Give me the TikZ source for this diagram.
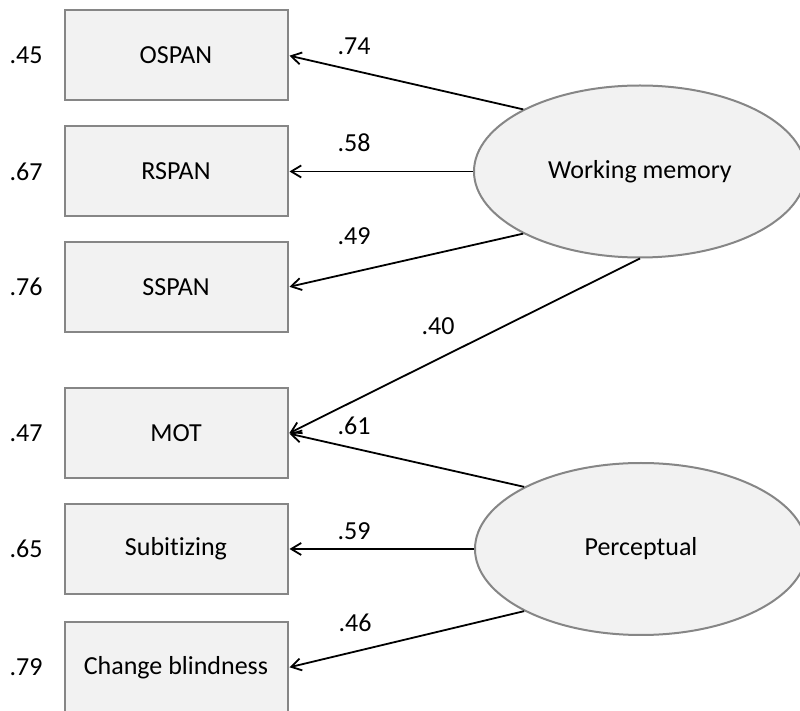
\documentclass[tikz,border=0pt]{standalone}
\usepackage{fontspec}
\setmainfont{Carlito}[Ligatures=NoCommon]
\usetikzlibrary{shapes.geometric,arrows.meta}
\definecolor{boxfill}{HTML}{F2F2F2}
\definecolor{boxline}{HTML}{868686}
\tikzset{
	txt/.style={font=\fontsize{13}{15}\selectfont},
	obsbox/.style={txt,draw=boxline,fill=boxfill,line width=1pt,minimum width=111.5pt,minimum height=45pt,inner sep=0pt},
	latent/.style={txt,ellipse,draw=boxline,fill=boxfill,line width=1pt,minimum width=166pt,minimum height=86pt,inner sep=0pt},
	loading/.style={line width=0.9pt,-{Straight Barb[length=5pt,width=6pt]},shorten >=0.5pt},
	coef/.style={txt,inner sep=0pt}
}

\begin{document}
\begin{tikzpicture}[x=0.5pt,y=-0.5pt]
			\useasboundingbox (0,0) rectangle (800,711);
			\clip (0,0) rectangle (800,711);
			% observed measures
			\node[obsbox] (ospan) at (176,55.5) {OSPAN};
			\node[obsbox] (rspan) at (176,171.5) {RSPAN};
			\node[obsbox] (sspan) at (176,287) {SSPAN};
			\node[obsbox] (mot) at (176,433.5) {MOT};
			\node[obsbox] (subit) at (176,549) {Subitizing};
			\node[obsbox] (change) at (176,667.5) {Change blindness};
			% latent factors
			\node[latent] (wm) at (640,171.5) {Working memory};
			\node[latent] (perc) at (641,549) {Perceptual};
			% loadings
			\draw[loading] (wm.152) -- (ospan.east);
			\draw[loading] (wm.180) -- (rspan.east);
			\draw[loading] (wm.208) -- (sspan.east);
			\draw[loading] (wm.270) -- (mot.east);
			\draw[loading] (perc.152) -- (mot.east);
			\draw[loading] (perc.180) -- (subit.east);
			\draw[loading] (perc.208) -- (change.east);
			\node[coef] (l1) at (354,46) {.74};
			\node[coef] (l2) at (354,143) {.58};
			\node[coef] (l3) at (354,236) {.49};
			\node[coef] (l4) at (438,326) {.40};
			\node[coef] (l5) at (354,426) {.61};
			\node[coef] (l6) at (354,531) {.59};
			\node[coef] (l7) at (355,623) {.46};
			% error variances
			\node[coef] (e1) at (26,55.5) {.45};
			\node[coef] (e2) at (26,171.5) {.67};
			\node[coef] (e3) at (26,287) {.76};
			\node[coef] (e4) at (26,433.5) {.47};
			\node[coef] (e5) at (26,549) {.65};
			\node[coef] (e6) at (26,667.5) {.79};
		\end{tikzpicture}
\end{document}
